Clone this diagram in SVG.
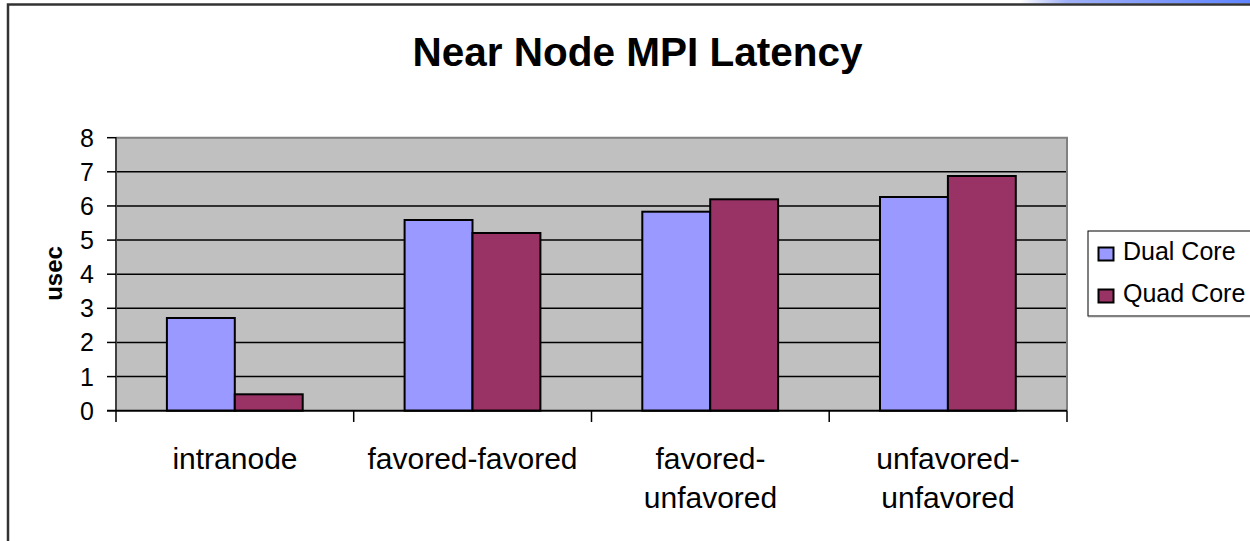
<svg xmlns="http://www.w3.org/2000/svg" width="1250" height="541" viewBox="0 0 1250 541">
  <defs>
    <linearGradient id="topStrip" x1="0" y1="0" x2="1" y2="0">
      <stop offset="0" stop-color="#ffffff"/>
      <stop offset="0.2" stop-color="#9fb0f6"/>
      <stop offset="1" stop-color="#5f84ff"/>
    </linearGradient>
    <style>
      text { font-family: "Liberation Sans", Arial, sans-serif; fill: #000; }
      .title { font-size: 40.5px; font-weight: bold; }
      .tick { font-size: 25px; }
      .cat { font-size: 30px; }
      .axis-title { font-size: 24px; font-weight: bold; }
      .legend-text { font-size: 25px; }
      .grid { stroke: #000; stroke-width: 1.5; }
      .dual { fill: #9999ff; stroke: #000; stroke-width: 2; }
      .quad { fill: #993366; stroke: #000; stroke-width: 2; }
    </style>
  </defs>

  <rect x="0" y="0" width="1250" height="541" fill="#fff"/>
  <!-- window strip at top right -->
  <rect x="1020" y="0" width="230" height="3.5" fill="url(#topStrip)"/>

  <!-- chart area border -->
  <path d="M8,545 V4.5 H1255" fill="none" stroke="#333" stroke-width="2.5"/>

  <!-- title -->
  <g id="title">
    <text class="title" x="637.5" y="65.5" text-anchor="middle">Near Node MPI Latency</text>
  </g>

  <!-- plot area -->
  <g id="plot">
    <rect x="116" y="137.7" width="951" height="273" fill="#c0c0c0"/>
    <path d="M116,137.7 H1067 V410.7" fill="none" stroke="#808080" stroke-width="2"/>
    <g class="grid">
      <line x1="116" y1="171.8" x2="1066" y2="171.8"/>
      <line x1="116" y1="205.95" x2="1066" y2="205.95"/>
      <line x1="116" y1="240.1" x2="1066" y2="240.1"/>
      <line x1="116" y1="274.2" x2="1066" y2="274.2"/>
      <line x1="116" y1="308.3" x2="1066" y2="308.3"/>
      <line x1="116" y1="342.45" x2="1066" y2="342.45"/>
      <line x1="116" y1="376.6" x2="1066" y2="376.6"/>
    </g>
  </g>

  <!-- bars -->
  <g id="series-dual">
    <rect class="dual" x="166.9" y="318.0" width="67.9" height="92.7"/>
    <rect class="dual" x="404.6" y="220.0" width="67.9" height="190.7"/>
    <rect class="dual" x="642.3" y="211.7" width="67.9" height="199.0"/>
    <rect class="dual" x="880.0" y="197.0" width="67.9" height="213.7"/>
  </g>
  <g id="series-quad">
    <rect class="quad" x="234.8" y="394.3" width="67.9" height="16.4"/>
    <rect class="quad" x="472.5" y="233.0" width="67.9" height="177.7"/>
    <rect class="quad" x="710.2" y="199.3" width="67.9" height="211.4"/>
    <rect class="quad" x="947.9" y="176.0" width="67.9" height="234.7"/>
  </g>

  <!-- axes -->
  <g id="axes" stroke="#000">
    <line x1="116" y1="137" x2="116" y2="422" stroke="#404040" stroke-width="2"/>
    <line x1="107" y1="410.7" x2="1067" y2="410.7" stroke-width="2"/>
    <g stroke-width="1.5">
      <line x1="107" y1="137.7" x2="116" y2="137.7"/>
      <line x1="107" y1="171.8" x2="116" y2="171.8"/>
      <line x1="107" y1="205.95" x2="116" y2="205.95"/>
      <line x1="107" y1="240.1" x2="116" y2="240.1"/>
      <line x1="107" y1="274.2" x2="116" y2="274.2"/>
      <line x1="107" y1="308.3" x2="116" y2="308.3"/>
      <line x1="107" y1="342.45" x2="116" y2="342.45"/>
      <line x1="107" y1="376.6" x2="116" y2="376.6"/>
      <line x1="353.7" y1="410.7" x2="353.7" y2="422"/>
      <line x1="591.5" y1="410.7" x2="591.5" y2="422"/>
      <line x1="829.2" y1="410.7" x2="829.2" y2="422"/>
      <line x1="1067" y1="410.7" x2="1067" y2="422"/>
    </g>
  </g>

  <!-- value axis labels -->
  <g id="value-labels" text-anchor="end">
    <text class="tick" x="94" y="146.6">8</text>
    <text class="tick" x="94" y="180.7">7</text>
    <text class="tick" x="94" y="214.8">6</text>
    <text class="tick" x="94" y="249">5</text>
    <text class="tick" x="94" y="283.1">4</text>
    <text class="tick" x="94" y="317.2">3</text>
    <text class="tick" x="94" y="351.3">2</text>
    <text class="tick" x="94" y="385.5">1</text>
    <text class="tick" x="94" y="419.6">0</text>
  </g>
  <g id="value-axis-title">
    <text class="axis-title" transform="translate(62,273.5) rotate(-90)" text-anchor="middle">usec</text>
  </g>

  <!-- category labels -->
  <g id="category-labels" text-anchor="middle">
    <text class="cat" x="235" y="469">intranode</text>
    <text class="cat" x="472.5" y="469">favored-favored</text>
    <text class="cat" x="710.5" y="469">favored-</text>
    <text class="cat" x="710.5" y="508">unfavored</text>
    <text class="cat" x="948" y="469">unfavored-</text>
    <text class="cat" x="948" y="508">unfavored</text>
  </g>

  <!-- legend -->
  <g id="legend">
    <rect x="1088" y="231" width="170" height="85" fill="#fff" stroke="#000" stroke-width="1"/>
    <line x1="1088" y1="316.5" x2="1255" y2="316.5" stroke="#808080" stroke-width="1.5"/>
    <rect class="dual" x="1098.5" y="247.5" width="15" height="13" stroke-width="1.5"/>
    <text class="legend-text" x="1123" y="260">Dual Core</text>
    <rect class="quad" x="1098.5" y="289.5" width="15" height="13" stroke-width="1.5"/>
    <text class="legend-text" x="1123" y="302">Quad Core</text>
  </g>
</svg>
